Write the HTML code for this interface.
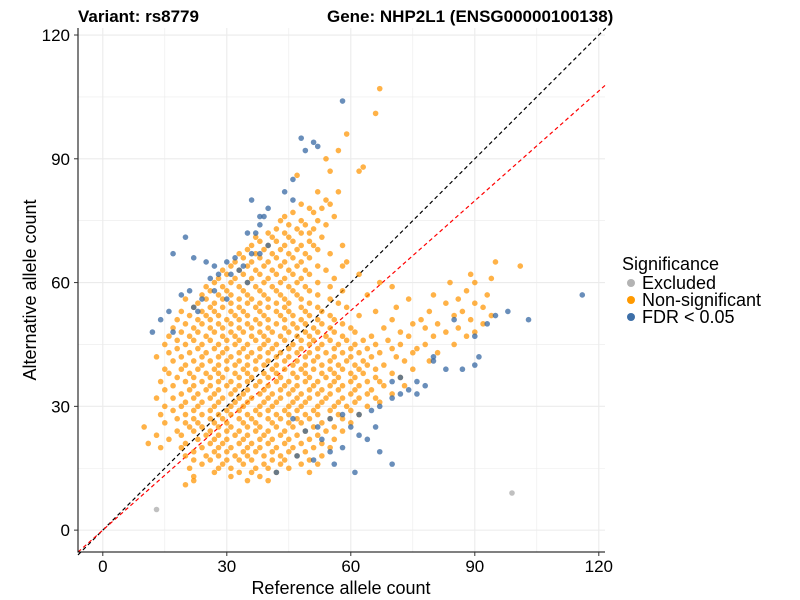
<!DOCTYPE html>
<html><head><meta charset="utf-8"><style>
body{margin:0;background:#fff;}
svg{display:block;font-family:"Liberation Sans",Arial,sans-serif;}
</style></head><body>
<svg id="chart" width="800" height="600">
<g id="grid"></g>
<g id="lines"></g>
<g id="pts"></g>
<g id="axes"></g>
<text x="78" y="22" font-size="17" font-weight="bold">Variant: rs8779</text>
<text x="327" y="22" font-size="17" font-weight="bold">Gene: NHP2L1 (ENSG00000100138)</text>
<text x="341" y="594" font-size="18" text-anchor="middle">Reference allele count</text>
<text transform="translate(36,290) rotate(-90)" font-size="18" text-anchor="middle">Alternative allele count</text>
<g>
<text x="622" y="270" font-size="18">Significance</text>
<circle cx="631" cy="283" r="4" fill="#B3B3B3"/>
<text x="642" y="289" font-size="18">Excluded</text>
<circle cx="631" cy="300" r="4" fill="#FF9900"/>
<text x="642" y="306" font-size="18">Non-significant</text>
<circle cx="631" cy="317" r="4" fill="#3D6FA8"/>
<text x="642" y="323" font-size="18">FDR &lt; 0.05</text>
</g>
</svg>
<script>
const xTicks=[0,30,60,90,120];
const yTicks=[0,30,60,90,120];
const redSlope=0.887;
const excluded=[[13,5],[99,9]];
const orangeRows=["11:20","12:22,35,40","13:22,31,38","14:27,33,36,42,50","15:21,28,31,37,40,45","16:24,29,34,39,43,48,52","17:22,26,30,33,36,41,44,50","18:20,25,28,32,35,39,43,47,53","19:22,27,30,34,37,41,45,49","20:14,19,24,28,31,35,38,42,46,51,55","21:11,20,26,29,33,36,40,44,48,53","22:16,23,27,30,34,38,41,45,50,56","23:13,19,25,28,32,35,39,43,47,52","24:18,22,26,30,33,37,40,44,49,54,58","25:10,21,24,28,31,35,38,42,46,51,56","26:15,20,23,27,30,34,37,41,45,48,53,60","27:18,22,26,29,33,36,40,43,47,50,55,58","28:14,20,24,28,31,35,38,42,45,49,52,57,62","29:17,22,26,30,33,37,40,44,47,51,55,60","30:15,19,23,27,31,34,38,41,45,48,52,56,59,64","31:20,24,28,32,35,39,42,46,49,53,57,61,67","32:13,17,22,26,29,33,36,40,43,47,50,54,58,62,66","33:19,23,27,31,34,38,41,45,48,52,55,60,64,70","34:15,21,25,28,32,35,39,43,46,50,53,57,61,65","35:17,22,26,30,33,37,40,44,47,51,55,58,62,68,73","36:14,20,24,28,31,35,38,42,45,49,52,56,60,64,67","37:18,22,26,29,33,36,40,43,47,50,54,57,61,66,72","38:16,21,25,28,32,35,39,42,46,49,53,56,60,63,70","39:15,19,23,27,30,34,37,41,44,48,51,55,58,62,66,75","40:20,24,28,32,35,39,42,46,49,53,57,61,64,68","41:17,22,26,30,33,37,40,44,47,51,55,59,63,73,79","42:13,19,24,28,31,35,38,42,45,49,52,56,60,65,71","43:16,21,25,29,33,36,40,43,47,50,54,58,62,67,75,81","44:18,23,27,30,34,38,41,45,48,52,56,60,64,70,76","45:15,20,24,28,32,35,39,42,46,50,53,57,61,66,72,78,85","46:18,22,26,30,33,37,40,44,48,51,55,59,63,69","47:16,21,25,29,32,36,39,43,47,50,54,58,65,74,80,88","48:19,23,27,31,34,38,41,45,49,52,56,61,72,83,90","49:17,22,26,29,33,36,40,44,47,51,55,60,68,78,86","50:20,24,28,31,35,38,42,46,49,53,58,75,81,92","51:18,23,26,30,33,37,40,44,48,52,56,70,77,89","52:21,25,28,32,35,39,43,46,50,55,62,85,94","53:19,24,27,31,34,38,42,45,49,53,66,79,87","54:22,26,29,33,37,40,44,48,52,59,71,92","55:23,27,31,35,38,42,45,50,57,83,90","56:20,25,29,33,36,40,44,48,55,74,86","57:24,28,31,35,39,43,47,52,64,80,93","58:26,30,34,38,42,46,50,58,88","59:25,29,33,37,41,45,49,55,70","60:27,31,35,39,43,47,52,67,84,90","61:28,32,36,40,44,48,56,94","62:30,34,38,42,46,50,62,89","63:29,33,37,41,45,49,54","64:31,35,39,43,47,52,58,101","65:32,36,40,44,48,59,95","66:34,38,42,46,50","67:33,37,41,45,49,55","68:35,39,43,47,52","69:36,40,44,48,51,58","70:38,42,46,50","71:37,41,45,53","72:40,44,48,50","73:42,47,51","74:45,49,54","75:43,48,52","76:44,56","77:46,51","78:50,53","79:48,55","80:54","82:52,57","86:47","87:55,62","88:63","90:54","92:57","96:59","101:66","107:67"];
const blue=[[20,71],[17,67],[22,66],[25,65],[27,64],[30,65],[28,62],[26,61],[31,62],[33,63],[34,64],[32,66],[36,67],[38,67],[40,69],[35,72],[37,72],[38,74],[38,76],[39,76],[40,78],[36,80],[44,82],[46,80],[46,85],[49,92],[48,95],[52,93],[51,94],[58,104],[21,58],[24,56],[19,57],[22,54],[16,53],[14,51],[12,48],[17,48],[23,53],[27,58],[30,56],[35,60],
[42,14],[47,18],[51,17],[55,19],[56,16],[58,20],[61,14],[52,25],[55,27],[58,28],[60,25],[62,28],[65,29],[67,30],[70,32],[72,33],[70,36],[72,37],[74,34],[76,33],[76,36],[78,35],[62,23],[64,22],[66,25],[46,27],[49,24],[53,22],[67,19],[70,16],
[80,41],[83,39],[87,39],[90,40],[91,42],[93,50],[95,52],[98,53],[103,51],[116,57],[80,42],[85,51],[90,47]];

const X0=-6,X1=121.5,Y0=-5.3,Y1=121.7;
const L=78,R=605,T=28,B=552;
const sx=v=>L+(v-X0)/(X1-X0)*(R-L);
const sy=v=>B-(v-Y0)/(Y1-Y0)*(B-T);
const NS="http://www.w3.org/2000/svg";
function mk(tag,attrs,parent){const e=document.createElementNS(NS,tag);for(const k in attrs)e.setAttribute(k,attrs[k]);parent.appendChild(e);return e;}
const grid=document.getElementById('grid'),lines=document.getElementById('lines'),pts=document.getElementById('pts'),axes=document.getElementById('axes');
for(let v=0;v<=120;v+=15){
  const g1=mk('line',{x1:sx(v),x2:sx(v),y1:T,y2:B,stroke:'#EBEBEB','stroke-width':v%30?0.6:1.1},grid);
  
  
  const g2=mk('line',{x1:L,x2:R,y1:sy(v),y2:sy(v),stroke:'#EBEBEB','stroke-width':v%30?0.6:1.1},grid);
  
  
}
const d1=mk('line',{x1:sx(X0),y1:sy(X0),x2:sx(Y1),y2:sy(Y1),stroke:'#000','stroke-width':1.2,'stroke-dasharray':'4,3'},lines);


const d2=mk('line',{x1:sx(X0),y1:sy(X0*redSlope),x2:sx(X1),y2:sy(X1*redSlope),stroke:'#FF0000','stroke-width':1.2,'stroke-dasharray':'4,3'},lines);


function dot(x,y,fill,name){
  const c=mk('circle',{cx:sx(x),cy:sy(y),r:2.8,fill:fill,'fill-opacity':0.72},pts);
  
  
}
excluded.forEach(p=>dot(p[0],p[1],'#A8A8A8','point-excluded'));
orangeRows.forEach(r=>{const [y,xs]=r.split(':');xs.split(',').forEach(x=>dot(+x,+y,'#FF9400','point-nonsig'));});
blue.forEach(p=>dot(p[0],p[1],'#2F62A0','point-fdr'));
const ax=mk('path',{d:`M${L},${T}V${B}H${R}`,fill:'none',stroke:'#000','stroke-width':1},axes);


xTicks.forEach(v=>{
  const t=mk('line',{x1:sx(v),x2:sx(v),y1:B,y2:B+4,stroke:'#333'},axes);
  
  
  const l=mk('text',{x:sx(v),y:B+20,'font-size':17,'text-anchor':'middle'},axes);
  l.textContent=v;
  
  
});
yTicks.forEach(v=>{
  const t=mk('line',{x1:L-4,x2:L,y1:sy(v),y2:sy(v),stroke:'#333'},axes);
  
  
  const l=mk('text',{x:L-8,y:sy(v)+6,'font-size':17,'text-anchor':'end'},axes);
  l.textContent=v;
  
  
});
</script>
</body></html>
